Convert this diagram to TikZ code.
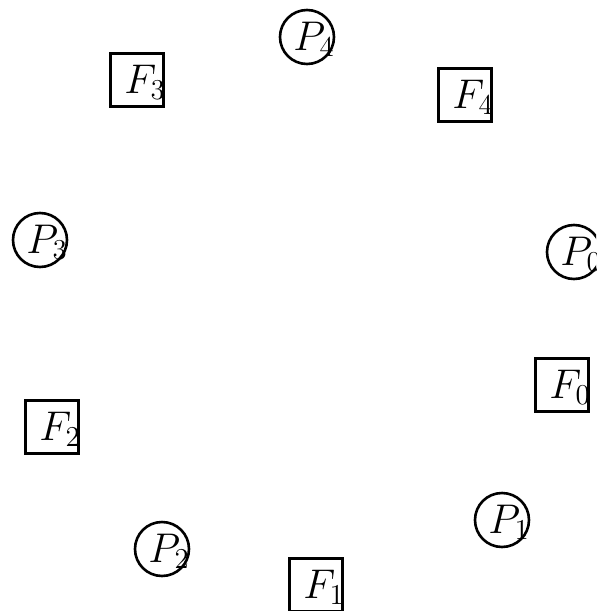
\documentclass[tikz,border=0pt]{standalone}
\begin{document}
\begin{tikzpicture}[x=0.5pt,y=-0.5pt,
  fork/.style={draw,line width=1.3pt,rectangle,minimum size=26.5pt,inner sep=0pt},
  phil/.style={draw,line width=1.3pt,circle,minimum size=27pt,inner sep=0pt},
  lab/.style={inner sep=0pt,font=\fontsize{20.5}{22}\selectfont}]
\clip (0,0) rectangle (596,611);
\useasboundingbox (0,0) rectangle (596,611);
% philosophers
\node[phil] (P0) at (574,252) {};
\node[phil] (P1) at (502,520) {};
\node[phil] (P2) at (162,549) {};
\node[phil] (P3) at (40,240) {};
\node[phil] (P4) at (307,37) {};
\node[lab] (P0t) at ([xshift=3.5pt,yshift=-1pt]P0.center) {$P_0$};
\node[lab] (P1t) at ([xshift=3.5pt,yshift=-1pt]P1.center) {$P_1$};
\node[lab] (P2t) at ([xshift=3.5pt,yshift=-1pt]P2.center) {$P_2$};
\node[lab] (P3t) at ([xshift=3.5pt,yshift=-1pt]P3.center) {$P_3$};
\node[lab] (P4t) at ([xshift=3.5pt,yshift=-1pt]P4.center) {$P_4$};
% forks
\node[fork] (F0) at (562,385) {};
\node[fork] (F1) at (316,585) {};
\node[fork] (F2) at (52,427) {};
\node[fork] (F3) at (137,80) {};
\node[fork] (F4) at (465,95) {};
\node[lab] (F0t) at ([xshift=4pt,yshift=-1pt]F0.center) {$F_0$};
\node[lab] (F1t) at ([xshift=4pt,yshift=-1pt]F1.center) {$F_1$};
\node[lab] (F2t) at ([xshift=4pt,yshift=-1pt]F2.center) {$F_2$};
\node[lab] (F3t) at ([xshift=4pt,yshift=-1pt]F3.center) {$F_3$};
\node[lab] (F4t) at ([xshift=4pt,yshift=-1pt]F4.center) {$F_4$};
\end{tikzpicture}
\end{document}
